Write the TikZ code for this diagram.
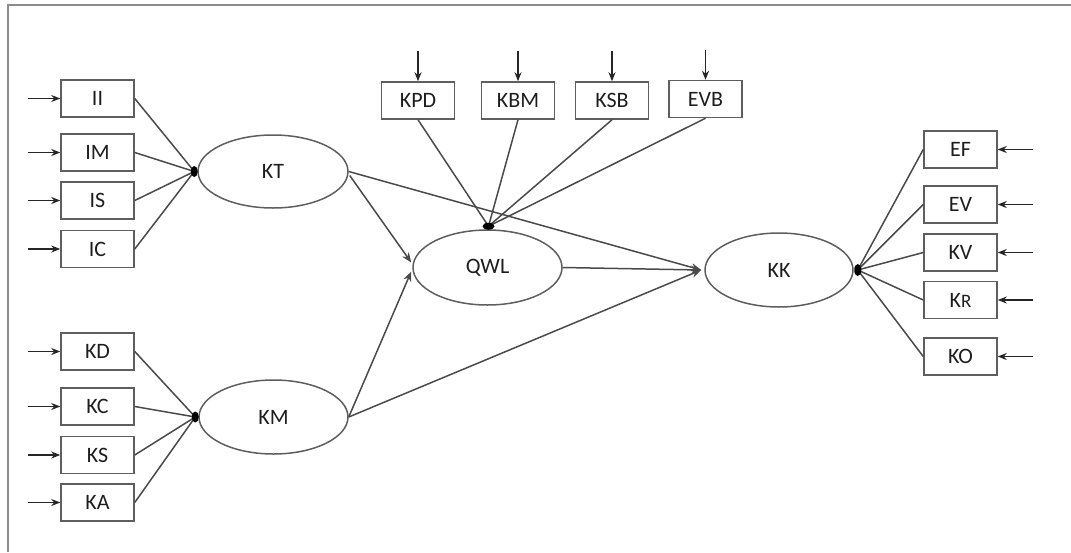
\documentclass[tikz,border=0pt]{standalone}
\usepackage{fontspec}
\setmainfont{Carlito}
\usetikzlibrary{arrows.meta,shapes.geometric,calc}
\definecolor{lineg}{HTML}{4A4A4A}
\definecolor{boxg}{HTML}{5E5E5E}
\definecolor{txt}{HTML}{1E1E1E}
\tikzset{
  ind/.style={draw=boxg, line width=1.5pt, minimum width=73pt, minimum height=37pt,
    inner sep=0pt, font=\fontsize{22}{25}\selectfont, text=txt},
  lat/.style={draw=boxg, line width=1.5pt, ellipse, inner sep=0pt,
    font=\fontsize{22}{25}\selectfont, text=txt},
  link/.style={draw=lineg, line width=1.5pt},
  path/.style={draw=lineg, line width=1.5pt, -{Stealth[length=10pt,width=8pt]}},
  err/.style={draw=black!85, line width=1.5pt, -{Stealth[length=9pt,width=7pt]}},
  hub/.style={fill=black}
}
\begin{document}
\begin{tikzpicture}[x=1pt,y=-1pt]
\useasboundingbox (0,0) rectangle (1071,552);
% frame edges
\draw[draw=black!45, line width=2pt] (8,552) -- (8,5) -- (1071,5);

% latent variables
\node[lat, minimum width=150pt, minimum height=73pt] (KT) at (273,171.5) {KT};
\node[lat, minimum width=149pt, minimum height=74pt] (KM) at (273.5,417) {KM};
\node[lat, minimum width=149pt, minimum height=75pt] (QWL) at (487.5,267.5) {QWL};
\node[lat, minimum width=148pt, minimum height=74pt] (KK) at (779,270) {KK};

% indicators of KT and KM
\node[ind] (II) at (97.5,98.5) {II};
\node[ind] (IM) at (97.5,152.5) {IM};
\node[ind] (IS) at (97.5,200.5) {IS};
\node[ind] (IC) at (97.5,249) {IC};
\node[ind] (KD) at (97.5,351.5) {KD};
\node[ind] (KC) at (97.5,406.5) {KC};
\node[ind] (KS) at (97.5,455) {KS};
\node[ind] (KA) at (97.5,502.5) {KA};

% indicators of QWL
\node[ind] (KPD) at (418,100.5) {KPD};
\node[ind] (KBM) at (518,100.5) {KBM};
\node[ind] (KSB) at (612,100.5) {KSB};
\node[ind] (EVB) at (705.5,99) {EVB};

% indicators of KK
\node[ind] (EF) at (960.5,149.5) {EF};
\node[ind] (EV) at (960.5,204.5) {EV};
\node[ind] (KV) at (960.5,252.5) {KV};
\node[ind] (KR) at (960.5,300) {K{\fontsize{19}{21}\selectfont R}};
\node[ind] (KO) at (960.5,356.5) {KO};

% hub points where indicator lines meet
\coordinate (hKT) at ($(KT.west)+(-3,0)$);
\coordinate (hKM) at ($(KM.west)+(-3,0)$);
\coordinate (hQWL) at ($(QWL.north)+(1,-3)$);
\coordinate (hKK) at ($(KK.east)+(4,0)$);

\foreach \b in {II,IM,IS,IC} \draw[link] (\b.east) -- (hKT);
\foreach \b in {KD,KC,KS,KA} \draw[link] (\b.east) -- (hKM);
\foreach \b in {KPD,KBM,KSB,EVB} \draw[link] (\b.south) -- (hQWL);
\foreach \b in {EF,EV,KV,KR,KO} \draw[link] (\b.west) -- (hKK);

\fill[hub] (hKT) ellipse (3.5 and 5.5);
\fill[hub] (hKM) ellipse (3.5 and 5.5);
\fill[hub] (hQWL) ellipse (6 and 3.5);
\fill[hub] (hKK) ellipse (3.5 and 6);

% error terms
\foreach \b in {II,IM,IS,IC,KD,KC,KS,KA} {
  \coordinate (e\b) at ($(\b.west)+(-32,0)$);
  \draw[err] (e\b) -- (\b.west);
}
\foreach \b in {KPD,KBM,KSB,EVB} {
  \coordinate (e\b) at ($(\b.north)+(0,-30)$);
  \draw[err] (e\b) -- (\b.north);
}
\foreach \b in {EF,EV,KV,KR,KO} {
  \coordinate (e\b) at ($(\b.east)+(35,0)$);
  \draw[err] (e\b) -- (\b.east);
}

% structural paths
\coordinate (qIn1) at ($(QWL.west)+(-1,-5)$);
\coordinate (qIn2) at ($(QWL.west)+(-1,4)$);
\coordinate (kIn) at ($(KK.west)+(-3,0)$);
\draw[path] ($(KT.east)+(1,4)$) -- (qIn1);
\draw[path] (KM.east) -- (qIn2);
\draw[path] (KT.east) -- (kIn);
\draw[path] (QWL.east) -- (kIn);
\draw[path] (KM.east) -- (kIn);
\end{tikzpicture}
\end{document}
